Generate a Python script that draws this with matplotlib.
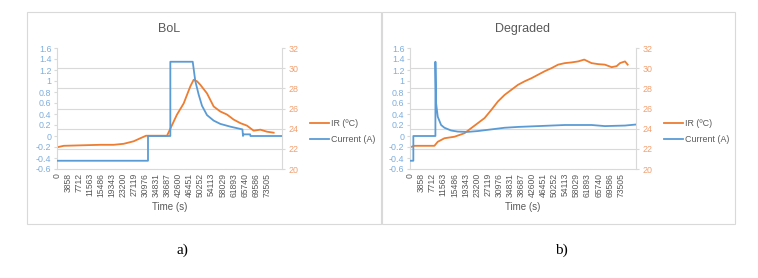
import matplotlib
matplotlib.use("Agg")
import matplotlib.pyplot as plt
from matplotlib.patches import Rectangle
from matplotlib.lines import Line2D

# ---------------- data ----------------
tick_labels = [0, 3858, 7712, 11563, 15486, 19343, 23200, 27119, 30976, 34831,
               38687, 42600, 46451, 50252, 54113, 58029, 61893, 65740, 69586, 73505]

# BoL
bol_ir_t = [0, 2333, 15167, 19833, 23333, 26833, 29167, 31150, 38500, 39667, 42000,
            44333, 46667, 47833, 49000, 50167, 52500, 54833, 57167, 59500, 61833,
            64167, 66500, 68833, 71167, 73500, 75833]
bol_ir = [22.15, 22.3, 22.4, 22.4, 22.5, 22.75, 23.05, 23.3, 23.3, 24.0, 25.4,
          26.5, 28.2, 28.85, 28.7, 28.35, 27.5, 26.2, 25.7, 25.4, 24.9,
          24.55, 24.3, 23.8, 23.9, 23.7, 23.6]
bol_cur_t = [0, 31850, 31850, 39667, 39667, 47500, 48400, 49600, 50750, 52500,
             54833, 57167, 60667, 64900, 65100, 65300, 67600, 67700, 78750]
bol_cur = [-0.45, -0.45, 0.0, 0.0, 1.35, 1.35, 1.0, 0.75, 0.55, 0.38,
           0.28, 0.22, 0.17, 0.12, 0.0, 0.03, 0.03, 0.0, 0.0]

# Degraded
deg_ir_t = [0, 1515, 6175, 8505, 9670, 12000, 15495, 18990, 21320, 23650, 25980,
            28310, 30640, 32970, 35300, 37630, 39960, 42290, 44620, 46950, 49280,
            51610, 53940, 56270, 58600, 60700, 63260, 65590, 67920, 70250, 71997,
            73162, 74910, 75842]
deg_ir = [22.15, 22.3, 22.3, 22.3, 22.7, 23.05, 23.2, 23.55, 24.05, 24.55, 25.05,
          25.85, 26.7, 27.35, 27.85, 28.35, 28.7, 29.0, 29.35, 29.7, 30.0,
          30.35, 30.5, 30.57, 30.67, 30.85, 30.5, 30.4, 30.35, 30.1, 30.2,
          30.5, 30.67, 30.35]
deg_cur_t = [0, 1165, 1165, 8854, 8854, 9087, 9670, 10835, 12000, 14330, 16660,
             20155, 23650, 28310, 32970, 37630, 42290, 46950, 53940, 63260, 65590,
             67920, 74910, 78987]
deg_cur = [-0.45, -0.45, 0.0, 0.0, 1.35, 0.6, 0.35, 0.2, 0.15, 0.1, 0.08,
           0.075, 0.09, 0.12, 0.15, 0.165, 0.175, 0.185, 0.2, 0.2, 0.19,
           0.18, 0.19, 0.21]

titles = ["BoL", "Degraded"]
captions = ["a)", "b)"]
ir_label = "IR (ºC)"
cur_label = "Current (A)"

# ---------------- style ----------------
BLUE = "#5B9BD5"
ORANGE = "#ED7D31"
LBLUE = "#7FAEDD"
LORANGE = "#F0A070"
GRID = "#D9D9D9"
TXT = "#595959"
W, H = 758, 278
FONT = "Liberation Sans"

fig = plt.figure(figsize=(W / 100, H / 100), dpi=100)
fig.patch.set_facecolor("white")


def fx(px):
    return px / W


def fy(py):
    return 1 - py / H


panels = [
    dict(box=(27, 12, 381, 224), ax=(57, 48, 282, 169), leg_x=310, cap_x=182,
         ir_t=bol_ir_t, ir=bol_ir, cur_t=bol_cur_t, cur=bol_cur),
    dict(box=(382, 12, 735, 224), ax=(410, 48, 636, 169), leg_x=664, cap_x=561,
         ir_t=deg_ir_t, ir=deg_ir, cur_t=deg_cur_t, cur=deg_cur),
]

for i, p in enumerate(panels):
    bx0, by0, bx1, by1 = p["box"]
    fig.patches.append(Rectangle((fx(bx0), fy(by1)), fx(bx1 - bx0), (by1 - by0) / H,
                                 transform=fig.transFigure, fill=False,
                                 edgecolor=GRID, linewidth=0.8))
    x0, y0, x1, y1 = p["ax"]
    ax = fig.add_axes([fx(x0), fy(y1), fx(x1 - x0), (y1 - y0) / H])
    ax2 = ax.twinx()
    ax.set_zorder(ax2.get_zorder() + 1)
    ax.patch.set_visible(False)

    # secondary axis (IR) with gridlines
    ax2.set_ylim(20, 32)
    ax2.set_yticks(range(20, 33, 2))
    for v in range(22, 31, 2):
        ax2.axhline(v, color=GRID, linewidth=0.8, zorder=0)
    ax2.plot(p["ir_t"], p["ir"], color=ORANGE, linewidth=1.3, zorder=2)
    ax2.tick_params(axis="y", length=2.5, width=0.8, color=GRID, labelsize=6.4,
                    labelcolor=LORANGE, pad=2)

    ax.plot(p["cur_t"], p["cur"], color=BLUE, linewidth=1.3, zorder=3)
    ax.set_ylim(-0.6, 1.6)
    yt = [-0.6 + 0.2 * k for k in range(12)]
    ax.set_yticks(yt)
    ax.set_yticklabels(["%g" % round(v, 1) if abs(v) > 1e-9 else "0" for v in yt])
    ax.tick_params(axis="y", length=2.5, width=0.8, color=GRID, labelsize=6.4,
                   labelcolor=LBLUE, pad=1.5)

    ax.set_xlim(0, 78750)
    ax.set_xticks(tick_labels)
    ax.set_xticklabels([str(v) for v in tick_labels], rotation=90)
    ax.tick_params(axis="x", length=0, labelsize=6.2, labelcolor=TXT, pad=3)

    for a in (ax, ax2):
        a.spines["top"].set_visible(False)
        for s in ("left", "right", "bottom"):
            a.spines[s].set_color(GRID)
            a.spines[s].set_linewidth(0.8)
    ax.spines["right"].set_visible(False)
    ax2.spines["left"].set_visible(False)
    ax2.spines["bottom"].set_visible(False)

    for lab in ax.get_xticklabels() + ax.get_yticklabels() + ax2.get_yticklabels():
        lab.set_fontfamily(FONT)

    fig.text(fx((x0 + x1) / 2), fy(29), titles[i], ha="center", va="center",
             fontsize=9, color=TXT, family=FONT)
    fig.text(fx((x0 + x1) / 2), fy(207), "Time (s)", ha="center", va="center",
             fontsize=7, color=TXT, family=FONT)

    # legend
    lx = p["leg_x"]
    for yy, col, lab in ((123, ORANGE, ir_label), (139, BLUE, cur_label)):
        fig.lines.append(Line2D([fx(lx), fx(lx + 19)], [fy(yy), fy(yy)],
                                transform=fig.transFigure, color=col, linewidth=1.3))
        fig.text(fx(lx + 21), fy(yy), lab, ha="left", va="center",
                 fontsize=6.4, color=TXT, family=FONT)

    fig.text(fx(p["cap_x"]), fy(250), captions[i], ha="center", va="center",
             fontsize=11, color="black", family="Liberation Serif")

fig.savefig("out.png", dpi=100, facecolor="white")
